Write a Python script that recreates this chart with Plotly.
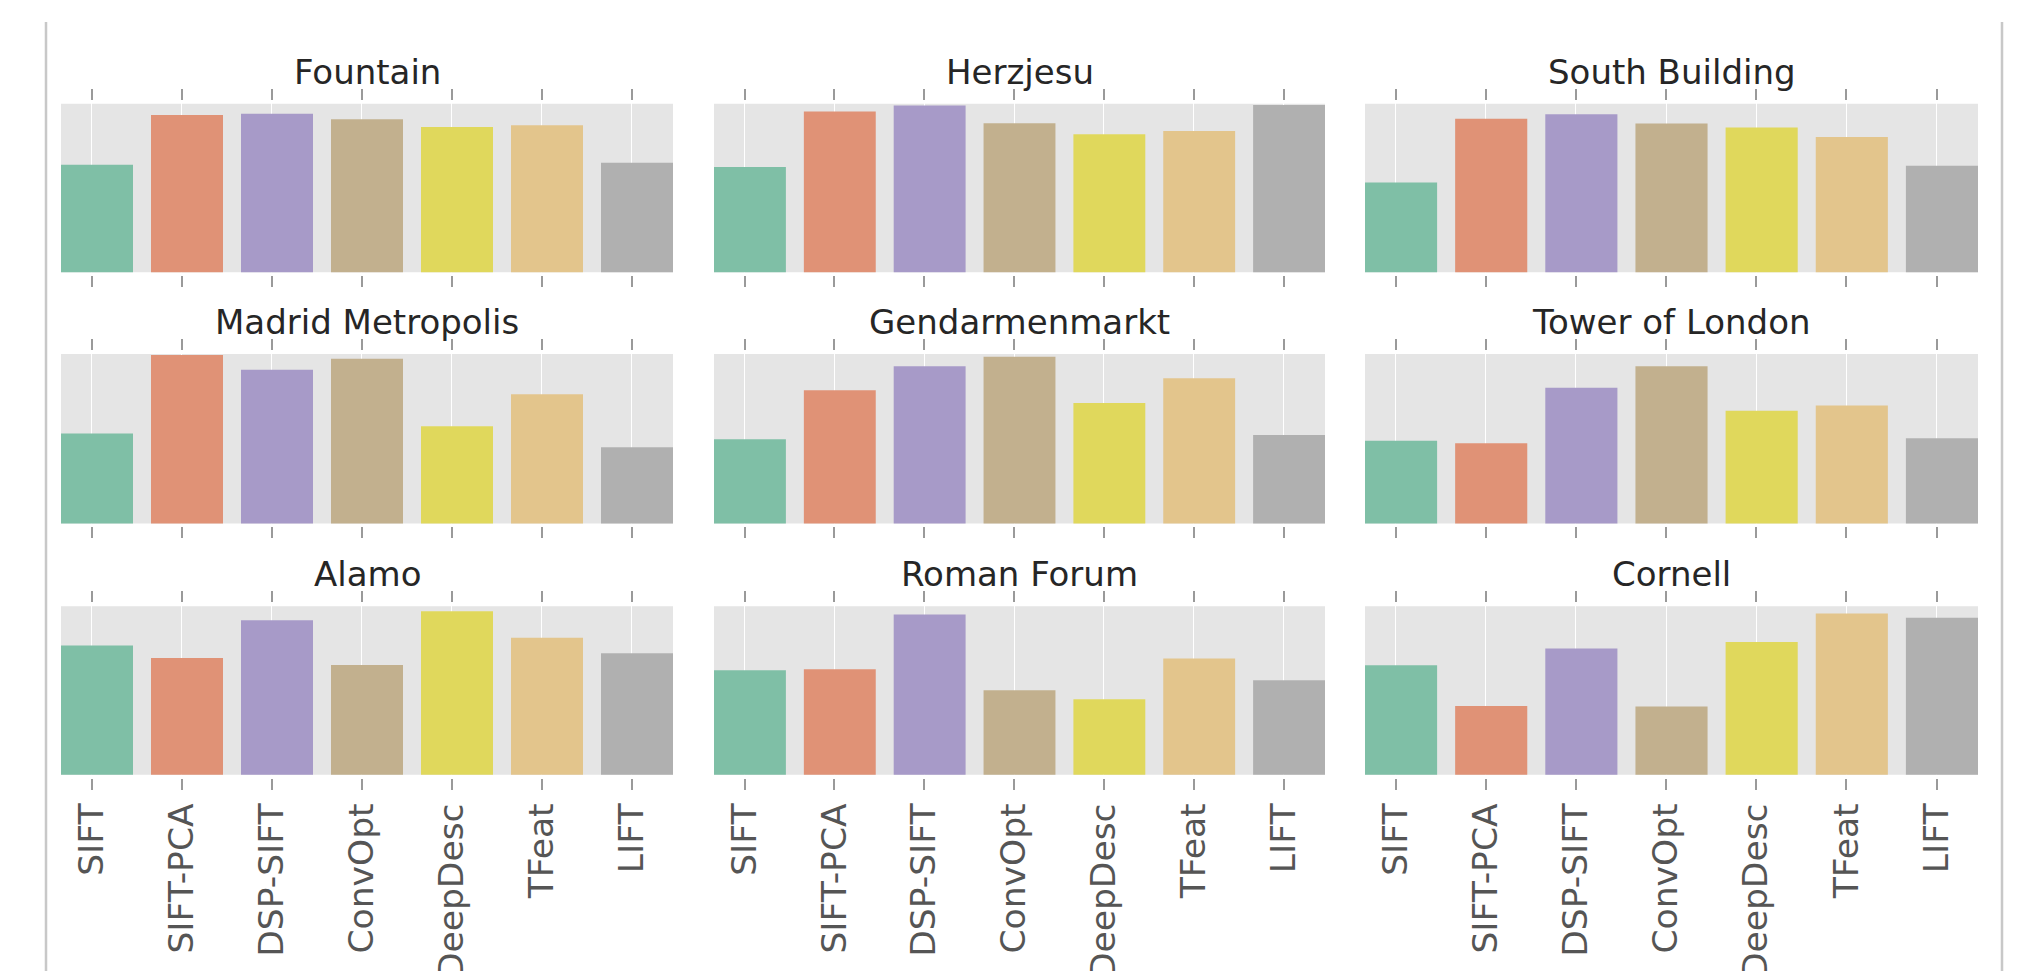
import plotly.graph_objects as go

# ---------------- data ----------------
methods = ["SIFT", "SIFT-PCA", "DSP-SIFT", "ConvOpt", "DeepDesc", "TFeat", "LIFT"]
titles = ["Fountain", "Herzjesu", "South Building",
          "Madrid Metropolis", "Gendarmenmarkt", "Tower of London",
          "Alamo", "Roman Forum", "Cornell"]

# relative score per panel (percent of panel height)
fountain = [63.7, 93.3, 94.1, 90.7, 86.2, 87.2, 64.9]
herzjesu = [62.5, 95.3, 99.0, 88.4, 81.9, 83.8, 99.2]
south_building = [53.3, 91.1, 93.7, 88.2, 85.8, 80.3, 63.1]
madrid_metropolis = [53.1, 99.4, 90.6, 97.1, 57.4, 76.2, 44.9]
gendarmenmarkt = [49.6, 78.5, 92.8, 98.4, 71.1, 85.7, 52.1]
tower_of_london = [48.8, 47.3, 80.1, 92.8, 66.4, 69.5, 50.2]
alamo = [76.7, 69.2, 91.7, 65.1, 97.0, 81.3, 72.0]
roman_forum = [61.9, 62.5, 95.1, 50.1, 44.8, 69.0, 56.0]
cornell = [64.9, 40.8, 74.8, 40.4, 78.7, 95.7, 93.1]

panel_values = [fountain, herzjesu, south_building,
                madrid_metropolis, gendarmenmarkt, tower_of_london,
                alamo, roman_forum, cornell]

colors = ["#7fbfa6", "#e09276", "#a79ac8", "#c2b08e", "#e0d85c", "#e3c58c", "#b0b0b0"]

# ---------------- layout geometry (pixels) ----------------
W, H = 2023, 971
col_px = [(53, 665), (706, 1317), (1357, 1970)]
row_px = [(96, 265), (347, 517), (600, 769)]
PAD = 3  # gap between gray panel and ticks

fig = go.Figure()
layout = dict(
    width=W, height=H,
    margin=dict(l=0, r=0, t=0, b=0),
    paper_bgcolor="white", plot_bgcolor="white",
    showlegend=False, bargap=0.2,
    font=dict(family="DejaVu Sans"),
)
shapes = []
annotations = []

xpos = list(range(len(methods)))
tickpos = [i - 0.06 for i in xpos]

for k, (title, vals) in enumerate(zip(titles, panel_values)):
    r, c = divmod(k, 3)
    n = k + 1
    xa = "x" if n == 1 else f"x{n}"
    ya = "y" if n == 1 else f"y{n}"
    x0, x1 = col_px[c]
    y0, y1 = row_px[r]
    h = y1 - y0
    padu = PAD / h * 100

    fig.add_trace(go.Bar(
        x=xpos, y=vals, width=0.8,
        marker=dict(color=colors, line=dict(width=0)),
        xaxis=xa, yaxis=ya, hoverinfo="skip",
    ))

    layout["xaxis" if n == 1 else f"xaxis{n}"] = dict(
        domain=[x0 / W, x1 / W], anchor=ya,
        range=[-0.4, 6.4],
        tickmode="array", tickvals=tickpos, ticktext=methods,
        showticklabels=(r == 2), tickangle=-90,
        tickfont=dict(family="DejaVu Sans", size=34.5, color="#555555"),
        ticks="outside", ticklen=11, tickwidth=1.5, tickcolor="#9a9a9a",
        mirror="ticks", showline=False,
        showgrid=True, gridcolor="white", gridwidth=1.2,
        zeroline=False, fixedrange=True,
        ticklabelstandoff=0,
    )
    layout["yaxis" if n == 1 else f"yaxis{n}"] = dict(
        domain=[1 - (y1 + PAD) / H, 1 - (y0 - PAD) / H], anchor=xa,
        range=[-padu, 100 + padu],
        showgrid=False, showticklabels=False, zeroline=False,
        ticks="", showline=False, fixedrange=True,
    )
    shapes.append(dict(
        type="rect", xref=xa, yref=ya, x0=-0.4, x1=6.4, y0=0, y1=100,
        fillcolor="#e5e5e5", line=dict(width=0), layer="below",
    ))
    annotations.append(dict(
        text=title, xref="paper", yref="paper",
        x=(x0 + x1) / 2 / W, y=1 - (y0 - 32) / H,
        xanchor="center", yanchor="middle", showarrow=False,
        font=dict(family="DejaVu Sans", size=34, color="#262626"),
    ))

# page frame lines
for xl in (38, 1994):
    shapes.append(dict(
        type="line", xref="paper", yref="paper",
        x0=xl / W, x1=xl / W, y0=0, y1=1 - 14 / H,
        line=dict(color="#c8c8c8", width=2.5),
    ))

layout["shapes"] = shapes
layout["annotations"] = annotations
fig.update_layout(**layout)
fig.write_html("out.html")
